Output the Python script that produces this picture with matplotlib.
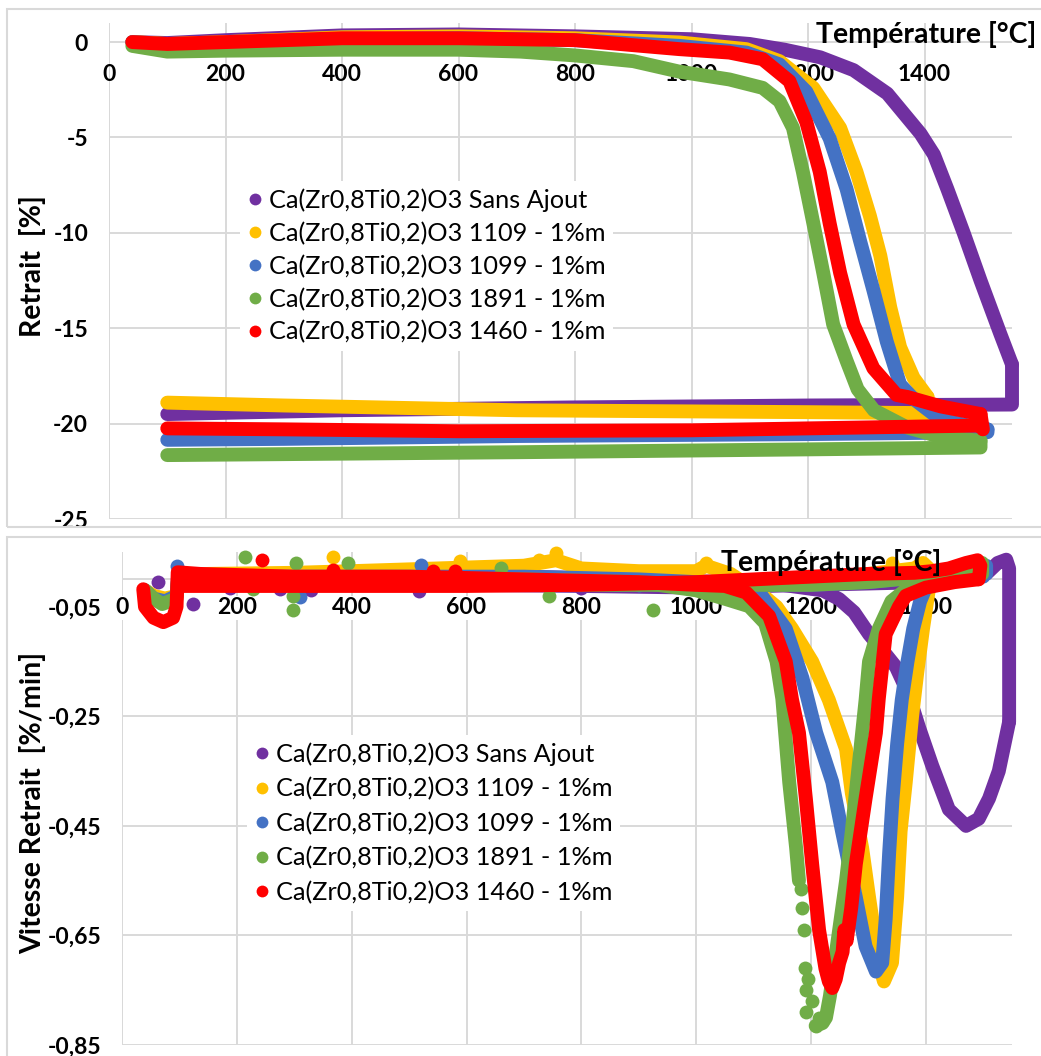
import matplotlib.pyplot as plt
from matplotlib.lines import Line2D
from matplotlib.patches import Rectangle

plt.rcParams['font.family'] = ['Lato', 'DejaVu Sans']

# ---------------- data ----------------
labels = ['Ca(Zr0,8Ti0,2)O3 Sans Ajout',
          'Ca(Zr0,8Ti0,2)O3 1109 - 1%m',
          'Ca(Zr0,8Ti0,2)O3 1099 - 1%m',
          'Ca(Zr0,8Ti0,2)O3 1891 - 1%m',
          'Ca(Zr0,8Ti0,2)O3 1460 - 1%m']
colors = ['#7030A0', '#FFC000', '#4472C4', '#70AD47', '#FF0000']

# Retrait [%] vs temperature : heating ramp
ret_heat_T = [
    [40, 100, 200, 400, 600, 800, 1000, 1100, 1160, 1221, 1278, 1336, 1393, 1416, 1439, 1467, 1496, 1530, 1550],
    [40, 100, 200, 400, 600, 800, 979, 1094, 1151, 1209, 1255, 1283, 1306, 1324, 1341, 1358, 1381, 1405],
    [40, 100, 200, 400, 600, 800, 979, 1094, 1151, 1197, 1237, 1266, 1289, 1312, 1335, 1358, 1381, 1428, 1508],
    [40, 100, 200, 400, 600, 706, 800, 900, 979, 1065, 1122, 1151, 1174, 1191, 1209, 1226, 1243, 1266, 1285,
     1313, 1370, 1428, 1496],
    [40, 100, 200, 400, 600, 800, 979, 1065, 1122, 1168, 1197, 1220, 1237, 1255, 1278, 1312, 1352, 1370, 1428,
     1496],
]
ret_heat_R = [
    [0, -0.05, 0.1, 0.35, 0.4, 0.3, 0.15, -0.1, -0.4, -0.8, -1.47, -2.7, -4.8, -5.9, -7.7, -10.0, -12.5, -15.3,
     -16.9],
    [0, -0.1, 0.0, 0.25, 0.3, 0.2, -0.02, -0.37, -1.0, -2.4, -4.5, -6.8, -9.1, -11.2, -13.9, -16.0, -17.6, -18.6],
    [0, -0.15, -0.05, 0.15, 0.2, 0.1, -0.2, -0.55, -1.17, -2.6, -5.05, -7.7, -10.4, -13.0, -15.7, -17.95, -18.7,
     -19.8, -20.3],
    [-0.2, -0.5, -0.45, -0.4, -0.4, -0.5, -0.7, -1.0, -1.55, -1.96, -2.4, -3.1, -4.5, -6.8, -9.5, -12.1, -14.8,
     -16.7, -18.2, -19.3, -20.2, -20.7, -20.9],
    [0, -0.1, 0.0, 0.2, 0.2, 0.1, -0.37, -0.55, -0.9, -2.05, -4.2, -6.8, -9.5, -12.1, -14.8, -17.1, -18.5, -18.6,
     -19.1, -19.5],
]
# Retrait [%] : dwell + cooling
ret_cool_T = [
    [1550, 1550, 1550, 1200, 800, 400, 100],
    [1405, 1405, 1200, 700, 300, 100],
    [1508, 1508, 1200, 700, 300, 100],
    [1496, 1496, 1200, 700, 300, 100],
    [1496, 1500, 1496, 1300, 1000, 600, 300, 100],
]
ret_cool_R = [
    [-16.9, -18.0, -19.0, -19.05, -19.15, -19.3, -19.5],
    [-18.6, -19.45, -19.4, -19.3, -19.05, -18.9],
    [-20.3, -20.45, -20.55, -20.65, -20.8, -20.85],
    [-20.9, -21.25, -21.35, -21.5, -21.6, -21.65],
    [-19.5, -20.3, -20.1, -20.2, -20.35, -20.4, -20.3, -20.25],
]

# Vitesse retrait [%/min] : heating ramp
vit_heat_T = [
    [40, 55, 75, 95, 98, 150, 300, 500, 700, 900, 1050, 1150, 1220, 1249, 1275, 1301, 1325, 1348, 1370, 1388,
     1411, 1440, 1470, 1492, 1510, 1527, 1545],
    [40, 55, 75, 95, 98, 150, 300, 400, 550, 700, 756, 800, 900, 1000, 1017, 1060, 1110, 1140, 1167, 1202, 1231,
     1261, 1271, 1289, 1301, 1318, 1327, 1341, 1350, 1356, 1365, 1376, 1385, 1395, 1405],
    [40, 55, 75, 95, 98, 150, 300, 500, 700, 900, 1000, 1060, 1110, 1156, 1185, 1209, 1237, 1254, 1278, 1295, 1313,
     1324, 1330, 1336, 1342, 1350, 1358, 1368, 1378, 1390, 1400, 1450, 1500],
    [40, 55, 70, 95, 98, 150, 300, 500, 700, 900, 1000, 1052, 1092, 1120, 1140, 1150, 1162, 1174, 1179],
    [37, 40, 55, 72, 89, 95, 96, 97, 136, 200, 300, 500, 700, 900, 1000, 1050, 1087, 1127, 1156, 1167, 1179, 1191,
     1202, 1214, 1225, 1231, 1237, 1243, 1249, 1255, 1258, 1262, 1270, 1278, 1295, 1313, 1318, 1330, 1353, 1365,
     1400, 1450, 1490],
]
vit_heat_V = [
    [-0.02, -0.035, -0.04, -0.03, 0.005, 0.005, 0.005, 0.005, 0.005, 0.0, -0.005, -0.01, -0.02, -0.036, -0.06,
     -0.10, -0.13, -0.16, -0.21, -0.27, -0.34, -0.42, -0.45, -0.437, -0.40, -0.35, -0.26],
    [-0.02, -0.03, -0.035, -0.03, 0.005, 0.01, 0.012, 0.015, 0.02, 0.025, 0.035, 0.02, 0.015, 0.015, 0.025, 0.01,
     -0.024, -0.05, -0.09, -0.15, -0.22, -0.31, -0.39, -0.49, -0.58, -0.70, -0.734, -0.70, -0.58, -0.46, -0.37,
     -0.25, -0.17, -0.09, -0.02],
    [-0.02, -0.035, -0.04, -0.03, 0.01, 0.005, 0.005, 0.005, 0.005, 0.0, -0.005, -0.01, -0.024, -0.09, -0.18,
     -0.28, -0.37, -0.46, -0.58, -0.67, -0.716, -0.70, -0.62, -0.50, -0.40, -0.30, -0.22, -0.15, -0.09, -0.04,
     -0.015, 0.0, 0.005],
    [-0.02, -0.035, -0.045, -0.035, 0.0, 0.0, 0.0, 0.0, 0.0, -0.005, -0.02, -0.036, -0.049, -0.08, -0.15, -0.218,
     -0.37, -0.49, -0.55],
    [-0.018, -0.05, -0.07, -0.078, -0.07, -0.05, -0.02, 0.013, 0.01, 0.008, 0.005, 0.005, 0.0, -0.005, -0.01,
     -0.012, -0.024, -0.067, -0.15, -0.22, -0.28, -0.40, -0.52, -0.64, -0.71, -0.734, -0.746, -0.73, -0.70,
     -0.68, -0.64, -0.66, -0.60, -0.52, -0.40, -0.28, -0.218, -0.10, -0.05, -0.03, -0.015, -0.005, 0.0],
]
# green: sparse points through the minimum, then the rising branch
green_sparse_T = [1183, 1185, 1188, 1189, 1194, 1192, 1202, 1191, 1214, 1208]
green_sparse_V = [-0.565, -0.60, -0.64, -0.71, -0.73, -0.75, -0.77, -0.79, -0.80, -0.815]
green_rise_T = [1208, 1220, 1226, 1233, 1237, 1249, 1261, 1271, 1283, 1295, 1301, 1318, 1340, 1370, 1400, 1450, 1495]
green_rise_V = [-0.815, -0.81, -0.80, -0.76, -0.73, -0.64, -0.55, -0.46, -0.34, -0.22, -0.15, -0.09, -0.04,
                -0.015, -0.005, 0.005, 0.01]

# Vitesse retrait : dwell + cooling
vit_cool_T = [
    [1545, 1545, 1545, 1540, 1525, 1505, 1400, 1200, 1000, 800, 600, 400, 200, 100],
    [1408, 1405, 1395, 1380, 1300, 1200, 1000, 800, 600, 400, 200, 100],
    [1505, 1505, 1490, 1400, 1300, 1200, 1000, 800, 600, 400, 200, 100],
    [1498, 1498, 1490, 1400, 1300, 1200, 1000, 800, 600, 400, 200, 100],
    [1492, 1495, 1490, 1470, 1440, 1410, 1380, 1300, 1200, 1100, 1000, 800, 600, 400, 200, 100],
]
vit_cool_V = [
    [-0.26, -0.08, 0.02, 0.036, 0.03, 0.01, -0.005, -0.01, -0.015, -0.012, -0.01, -0.01, -0.01, -0.01],
    [0.0, 0.02, 0.03, 0.02, 0.01, 0.0, -0.005, -0.005, -0.005, -0.005, -0.005, -0.005],
    [0.01, 0.025, 0.015, 0.005, -0.005, -0.01, -0.01, -0.008, -0.008, -0.008, -0.008, -0.01],
    [0.01, 0.03, 0.02, 0.005, -0.005, -0.01, -0.01, -0.01, -0.01, -0.01, -0.01, -0.01],
    [0.0, 0.025, 0.035, 0.03, 0.02, 0.015, 0.012, 0.01, 0.005, 0.0, -0.005, -0.01, -0.012, -0.012, -0.012, -0.012],
]
# isolated noisy points of the rate curves
noise_T = [
    [63, 124, 188, 275, 330, 518, 800],
    [367, 588, 727, 756, 1017, 1341],
    [96, 310, 521, 900],
    [214, 228, 298, 298, 303, 394, 660, 744, 924],
    [243, 367, 541, 580],
]
noise_V = [
    [-0.005, -0.045, -0.015, -0.018, -0.02, -0.022, -0.015],
    [0.04, 0.033, 0.036, 0.049, 0.03, 0.03],
    [0.024, -0.033, 0.027, -0.01],
    [0.04, -0.018, -0.03, -0.055, 0.03, 0.03, 0.02, -0.03, -0.055],
    [0.036, 0.018, 0.015, 0.015],
]

temp_ticks = [0, 200, 400, 600, 800, 1000, 1200, 1400]
ret_ticks = [0, -5, -10, -15, -20, -25]
vit_ticks = [-0.85, -0.65, -0.45, -0.25, -0.05]
vit_tick_labels = ['-0,85', '-0,65', '-0,45', '-0,25', '-0,05']
vit_grid = [-0.85, -0.65, -0.45, -0.25]

# ---------------- figure ----------------
W, H = 1041, 1056
GRID = '#d9d9d9'
fig = plt.figure(figsize=(W / 100, H / 100), dpi=100)


def rect(left, top, right, bottom):
    return [left / W, 1 - bottom / H, (right - left) / W, (bottom - top) / H]


# chart-area borders (Excel style)
fig.add_artist(Rectangle((7 / W, 1 - 527 / H), 1.0, (527 - 9) / H, transform=fig.transFigure,
                         fill=False, edgecolor=GRID, lw=1.5))
fig.add_artist(Rectangle((7 / W, 1 - 1060 / H), 1.0, (1060 - 537) / H, transform=fig.transFigure,
                         fill=False, edgecolor=GRID, lw=1.5))

ax1 = fig.add_axes(rect(109, 23, 1012, 519))
ax2 = fig.add_axes(rect(122, 552, 1012, 1045))

LW = 10
line_kw = dict(lw=LW, solid_capstyle='round', solid_joinstyle='round', clip_on=False)
for i in range(5):
    ax1.plot(ret_heat_T[i], ret_heat_R[i], color=colors[i], **line_kw)
    ax1.plot(ret_cool_T[i], ret_cool_R[i], color=colors[i], **line_kw)

for i in range(5):
    ax2.plot(vit_cool_T[i], vit_cool_V[i], color=colors[i], **line_kw)
    ax2.plot(vit_heat_T[i], vit_heat_V[i], color=colors[i], **line_kw)
    ax2.plot(noise_T[i], noise_V[i], 'o', color=colors[i], ms=10, mew=0, clip_on=False)
    if i == 3:
        ax2.plot(green_sparse_T, green_sparse_V, 'o', color=colors[i], ms=10, mew=0)
        ax2.plot(green_rise_T, green_rise_V, color=colors[i], **line_kw)

# ---- axes styling ----
for ax in (ax1, ax2):
    for s in ax.spines.values():
        s.set_visible(False)
    ax.set_xlim(0, 1550)
    ax.set_xticks(temp_ticks)
    ax.set_xticklabels([str(t) for t in temp_ticks])
    ax.grid(axis='x', color=GRID, lw=1.4)
    ax.set_axisbelow(True)
    ax.axvline(0, color=GRID, lw=1.4, zorder=0.5)
    ax.axhline(0, color=GRID, lw=1.4, zorder=0.5)
    ax.spines['bottom'].set_position(('data', 0))
    ax.tick_params(length=0, labelsize=16.5)
    for lbl in ax.get_xticklabels():
        lbl.set_fontweight('bold')

ax1.set_ylim(-25, 1)
ax1.set_yticks(ret_ticks)
ax1.set_yticklabels([str(v) for v in ret_ticks], fontweight='bold')
for v in ret_ticks[1:]:
    ax1.axhline(v, color=GRID, lw=1.4, zorder=0.5)
ax1.tick_params(axis='x', pad=16)
ax1.tick_params(axis='y', pad=15)

ax2.set_ylim(-0.85, 0.05)
ax2.set_yticks(vit_ticks)
ax2.set_yticklabels(vit_tick_labels, fontweight='bold')
for v in vit_grid:
    ax2.axhline(v, color=GRID, lw=1.4, zorder=0.5)
ax2.tick_params(axis='x', pad=13)
ax2.tick_params(axis='y', pad=15)
for lbl in ax2.get_xticklabels():
    lbl.set_bbox(dict(facecolor='white', edgecolor='none', pad=1))

# axis titles
fig.text(33 / W, 1 - 266 / H, 'Retrait  [%]', rotation=90, ha='center', va='center',
         fontsize=20.5, fontweight='bold')
fig.text(33 / W, 1 - 803 / H, 'Vitesse Retrait  [%/min]', rotation=90, ha='center', va='center',
         fontsize=20.5, fontweight='bold')
fig.text(1036 / W, 1 - 35 / H, 'Température [°C]', ha='right', va='center', fontsize=20.5, fontweight='bold')
fig.text(941 / W, 1 - 563 / H, 'Température [°C]', ha='right', va='center', fontsize=20.5, fontweight='bold')

# legends
handles = [Line2D([], [], ls='none', marker='o', ms=8.5, mew=0, color=c) for c in colors]
common = dict(loc='upper left', bbox_transform=fig.transFigure, frameon=True, facecolor='white',
              edgecolor='none', framealpha=1, fancybox=False, fontsize=18.2, borderpad=0.3,
              handlelength=0.55, handletextpad=0.3, borderaxespad=0)
ax1.legend(handles, labels, bbox_to_anchor=(240 / W, 1 - 181 / H), labelspacing=0.38, **common).set_zorder(5)
ax2.legend(handles, labels, bbox_to_anchor=(247 / W, 1 - 735 / H), labelspacing=0.44, **common).set_zorder(5)

fig.savefig('out.png', dpi=100)
